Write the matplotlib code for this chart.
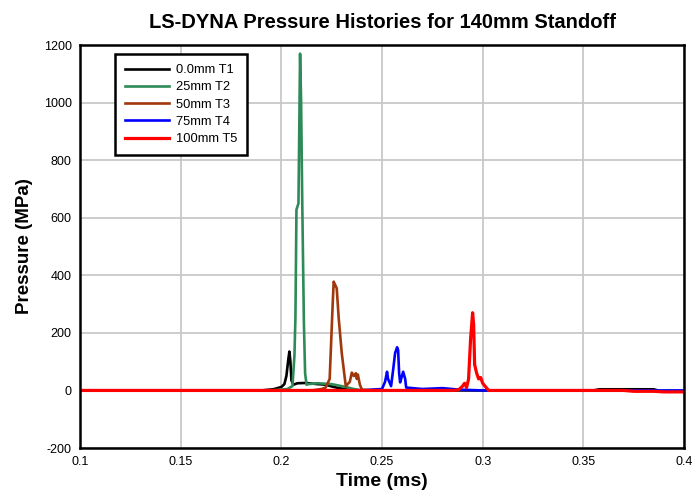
import matplotlib
matplotlib.use("Agg")
import matplotlib.pyplot as plt

plt.rcParams['font.family'] = ['Liberation Sans', 'DejaVu Sans']
plt.rcParams['axes.unicode_minus'] = False

# pressure histories (time in ms, pressure in MPa)
t1 = [0.190, 0.196, 0.200, 0.2015, 0.2025, 0.2035, 0.204, 0.2045, 0.205, 0.206,
      0.208, 0.212, 0.218, 0.222, 0.226, 0.232, 0.240, 0.355, 0.358, 0.385, 0.387]
p1 = [0, 4, 12, 22, 50, 110, 135, 100, 35, 20,
      25, 26, 22, 20, 12, 4, 0, 0, 4, 4, 0]

t2 = [0.195, 0.203, 0.2055, 0.2065, 0.207, 0.2075, 0.2085, 0.2093, 0.2098, 0.2103,
      0.2107, 0.2112, 0.2118, 0.2125, 0.2135, 0.218, 0.225, 0.232, 0.236, 0.240]
p2 = [0, 5, 15, 120, 257, 628, 650, 1170, 1010, 700,
      490, 236, 60, 20, 22, 25, 22, 12, 5, 0]

t3 = [0.215, 0.220, 0.222, 0.224, 0.2255, 0.226, 0.2265, 0.2275, 0.2285, 0.230,
      0.232, 0.234, 0.235, 0.236, 0.237, 0.2375, 0.238, 0.239, 0.240, 0.245]
p3 = [0, 5, 10, 40, 300, 378, 370, 355, 250, 130,
      15, 30, 62, 50, 60, 40, 55, 20, 3, 0]

t4 = [0.240, 0.245, 0.250, 0.2515, 0.2525, 0.253, 0.2545, 0.2555, 0.2565, 0.2575,
      0.258, 0.2585, 0.259, 0.2595, 0.2605, 0.2615, 0.262, 0.270, 0.280, 0.288,
      0.300, 0.340, 0.400]
p4 = [0, 3, 5, 30, 65, 40, 15, 70, 130, 150,
      140, 60, 28, 40, 65, 40, 10, 5, 8, 3,
      0, 0, 0]

t5 = [0.100, 0.285, 0.288, 0.290, 0.291, 0.292, 0.293, 0.294, 0.295, 0.2955,
      0.296, 0.297, 0.298, 0.299, 0.300, 0.302, 0.303, 0.370, 0.375, 0.385,
      0.390, 0.400]
p5 = [0, 0, 2, 15, 25, 10, 40, 180, 270, 230,
      90, 60, 40, 45, 25, 8, 0, 0, -3, -3,
      -5, -5]

labels = ['0.0mm T1', '25mm T2', '50mm T3', '75mm T4', '100mm T5']
colors = ['#000000', '#2e8b57', '#a0380b', '#0000ff', '#ff0000']
widths = [1.9, 1.9, 1.9, 1.9, 2.3]

fig = plt.figure(figsize=(6.94, 5.03), dpi=100)
ax = fig.add_axes([0.1153, 0.1093, 0.8703, 0.8012])

for t, p, lab, c, w in zip([t1, t2, t3, t4, t5], [p1, p2, p3, p4, p5],
                           labels, colors, widths):
    ax.plot(t, p, color=c, lw=w, label=lab)

ax.set_xlim(0.1, 0.4)
ax.set_ylim(-200, 1200)
ax.set_xticks([0.1, 0.15, 0.2, 0.25, 0.3, 0.35, 0.4])
ax.set_xticklabels(['0.1', '0.15', '0.2', '0.25', '0.3', '0.35', '0.4'])
ax.set_yticks(range(-200, 1201, 200))
ax.grid(True, color='#c8c8c8', lw=1.3)
ax.set_axisbelow(True)
ax.tick_params(length=0, labelsize=9, pad=6)
for s in ax.spines.values():
    s.set_linewidth(1.8)

ax.set_title('LS-DYNA Pressure Histories for 140mm Standoff',
             fontsize=14.5, fontweight='bold', pad=12)
ax.set_xlabel('Time (ms)', fontsize=14, fontweight='bold', labelpad=3)
ax.set_ylabel('Pressure (MPa)', fontsize=13.5, fontweight='bold', labelpad=8)

leg = ax.legend(loc='upper left', bbox_to_anchor=(0.058, 0.978), fontsize=9.3,
                fancybox=False, framealpha=1, edgecolor='black',
                handlelength=3.4, handletextpad=0.5, borderpad=0.8,
                labelspacing=0.4, borderaxespad=0)
leg.get_frame().set_linewidth(1.8)

fig.savefig('out.png', dpi=100)
